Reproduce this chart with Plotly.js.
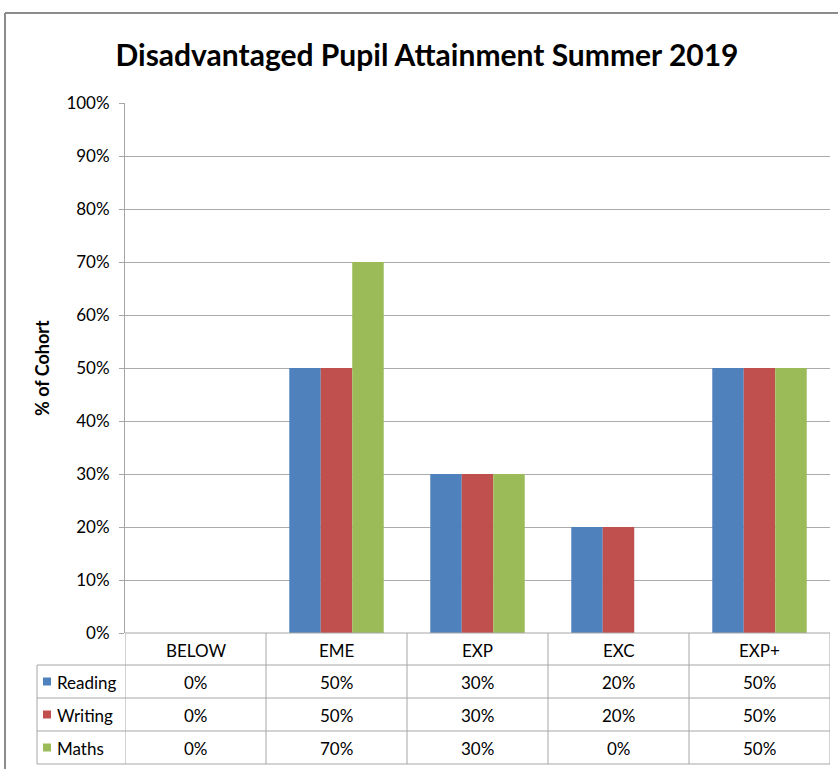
<!DOCTYPE html>
<html>
<head>
<meta charset="utf-8">
<script src="https://cdn.plot.ly/plotly-3.0.1.min.js"></script>
<style>html,body{margin:0;padding:0;background:#fff;}</style>
</head>
<body>
<div id="chart" style="width:838px;height:769px;"></div>
<script>
// ---- data ----
const categories = ['BELOW', 'EME', 'EXP', 'EXC', 'EXP+'];
const seriesNames = ['Reading', 'Writing', 'Maths'];
const reading = [0, 50, 30, 20, 50];
const writing = [0, 50, 30, 20, 50];
const maths   = [0, 70, 30, 0, 50];
const yTickVals = [0, 10, 20, 30, 40, 50, 60, 70, 80, 90, 100];
const chartTitle = 'Disadvantaged Pupil Attainment Summer 2019';
const yTitle = '% of Cohort';

// ---- styles ----
const colors = ['#4F81BD', '#C0504D', '#9BBB59'];
const FONT = 'Lato, "Liberation Sans", Arial, sans-serif';
const W = 838, H = 769;
const L = 125, R = 830, T = 103, B = 633;
const gridCol = '#ABABAB';
const tableCol = '#A6A6A6';

const px = v => (v - L) / (R - L);
const py = v => (B - v) / (B - T);

const seriesVals = [reading, writing, maths];
const traces = seriesNames.map((n, i) => ({
  type: 'bar',
  name: n,
  x: categories,
  y: seriesVals[i].map(v => v / 100),
  marker: {color: colors[i], line: {width: 0}},
  hoverinfo: 'x+y'
}));

// table geometry
const rowEdges = [633, 665, 698, 731, 764];
const legendLeft = 37;
const shapes = [];
const annotations = [];

// outer frame
shapes.push({type: 'line', xref: 'paper', yref: 'paper', x0: px(5), x1: px(5), y0: py(13), y1: py(780), line: {color: '#8C8C8C', width: 2}});
shapes.push({type: 'line', xref: 'paper', yref: 'paper', x0: px(5), x1: px(845), y0: py(13), y1: py(13), line: {color: '#8C8C8C', width: 2}});

// horizontal table lines
shapes.push({type: 'line', xref: 'paper', yref: 'paper', x0: px(L), x1: px(R), y0: py(rowEdges[0]), y1: py(rowEdges[0]), line: {color: tableCol, width: 1}});
for (let r = 1; r < rowEdges.length; r++) {
  shapes.push({type: 'line', xref: 'paper', yref: 'paper', x0: px(legendLeft), x1: px(R), y0: py(rowEdges[r]), y1: py(rowEdges[r]), line: {color: tableCol, width: 1}});
}
// vertical table lines at category boundaries
for (let c = 0; c <= categories.length; c++) {
  shapes.push({type: 'line', xref: 'x', yref: 'paper', x0: c - 0.5, x1: c - 0.5, y0: py(rowEdges[0]), y1: py(rowEdges[4]), line: {color: tableCol, width: 1}});
}
// legend column left edge
shapes.push({type: 'line', xref: 'paper', yref: 'paper', x0: px(legendLeft), x1: px(legendLeft), y0: py(rowEdges[1]), y1: py(rowEdges[4]), line: {color: tableCol, width: 1}});

// category header labels
categories.forEach((c, i) => {
  annotations.push({xref: 'x', yref: 'paper', x: i, y: py((rowEdges[0] + rowEdges[1]) / 2 + 1), text: c, showarrow: false, xanchor: 'center', yanchor: 'middle', font: {family: FONT, size: 17, color: '#000'}});
});
// value rows
seriesVals.forEach((arr, s) => {
  const mid = (rowEdges[s + 1] + rowEdges[s + 2]) / 2;
  const yc = py(mid + 1);
  arr.forEach((v, i) => {
    annotations.push({xref: 'x', yref: 'paper', x: i, y: yc, text: v + '%', showarrow: false, xanchor: 'center', yanchor: 'middle', font: {family: FONT, size: 17, color: '#000'}});
  });
  // legend key + name
  shapes.push({type: 'rect', xref: 'paper', yref: 'paper', x0: px(43), x1: px(51), y0: py(mid - 4), y1: py(mid + 4), fillcolor: colors[s], line: {width: 0}});
  annotations.push({xref: 'paper', yref: 'paper', x: px(55), y: yc, text: seriesNames[s], showarrow: false, xanchor: 'left', yanchor: 'middle', font: {family: FONT, size: 17, color: '#000'}});
});

// y-axis title
annotations.push({xref: 'paper', yref: 'paper', x: px(42), y: py(368), text: '<b>' + yTitle + '</b>', showarrow: false, textangle: -90, xanchor: 'center', yanchor: 'middle', font: {family: FONT, size: 18, color: '#000'}});

const layout = {
  width: W, height: H,
  margin: {l: L, r: W - R, t: T, b: H - B, pad: 0},
  paper_bgcolor: '#fff', plot_bgcolor: '#fff',
  title: {text: '<b>' + chartTitle + '</b>', x: 427 / W, xanchor: 'center', y: 1 - 55 / H, yanchor: 'middle', font: {family: FONT, size: 30, color: '#000'}},
  showlegend: false,
  barmode: 'group',
  bargap: 0.33,
  bargroupgap: 0,
  xaxis: {range: [-0.5, 4.5], showticklabels: false, showgrid: false, zeroline: false, showline: false, ticks: '', fixedrange: true},
  yaxis: {range: [0, 1], tickvals: yTickVals.map(v => v / 100), ticktext: yTickVals.map(v => v + '%'),
          showgrid: true, gridcolor: gridCol, gridwidth: 1, zeroline: false,
          showline: true, linecolor: tableCol, linewidth: 1,
          ticks: 'outside', ticklen: 5, tickcolor: tableCol, tickfont: {family: FONT, size: 17, color: '#000'},
          ticklabelstandoff: 6, fixedrange: true},
  shapes: shapes,
  annotations: annotations
};

Plotly.newPlot('chart', traces, layout, {displayModeBar: false, staticPlot: true});
</script>
</body>
</html>
